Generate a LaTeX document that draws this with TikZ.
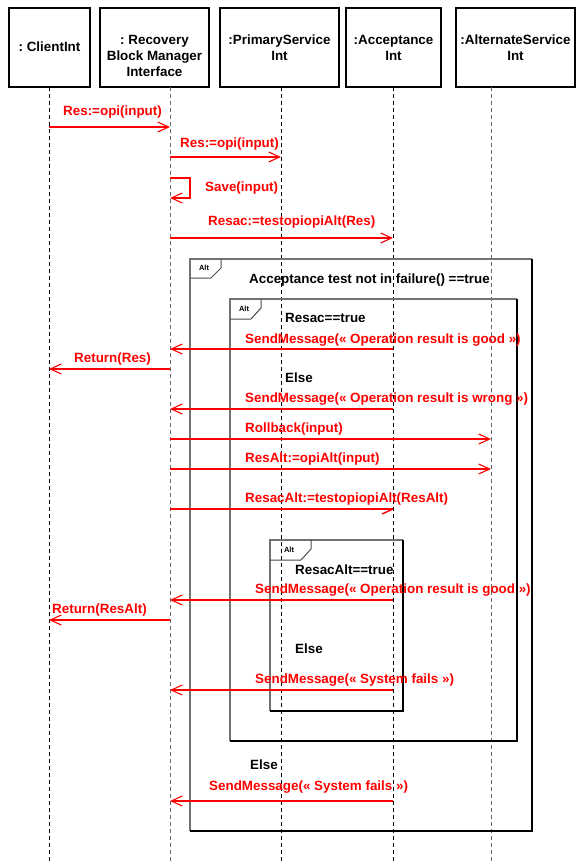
\documentclass[tikz,border=0pt]{standalone}
\usepackage{fontspec}
\setmainfont{Liberation Sans}
\usetikzlibrary{arrows.meta}
\newcommand{\lbfont}{\fontsize{13.4}{16}\selectfont\bfseries}
\newcommand{\tagfont}{\fontsize{7.5}{8}\selectfont\bfseries}
\frenchspacing
\begin{document}
\begin{tikzpicture}[x=1pt,y=-1pt,
  headbox/.style={draw,line width=1.2pt,inner sep=0},
  headtxt/.style={font=\lbfont,align=center,inner sep=0},
  lifeline/.style={dash pattern=on 4pt off 3pt,line width=0.8pt},
  msg/.style={red,line width=1.2pt,-{Straight Barb[length=11pt,width=10pt,line width=1.1pt]}},
  halfmsg/.style={draw=red,line width=1.4pt},
  lbl/.style={text=red,font=\lbfont,inner sep=0,anchor=base west},
  guard/.style={text=black,font=\lbfont,inner sep=0,anchor=base west},
  frameTL/.style={draw=black!55,line width=1.1pt},
  frameBR/.style={draw=black,line width=1.1pt},
  frameBot/.style={draw=black,line width=1.8pt},
  tagline/.style={draw=black!70,line width=1pt},
  tagtxt/.style={font=\tagfont,inner sep=0}]
\useasboundingbox (0,0) rectangle (576,861);
\fill[white] (0,0) rectangle (576,861);

% heads
\node[headbox,minimum width=81pt,minimum height=79pt] (b1) at (49.5,47.5) {};
\node[headbox,minimum width=109pt,minimum height=79pt] (b2) at (154.5,47.5) {};
\node[headbox,minimum width=119pt,minimum height=79pt] (b3) at (279.5,47.5) {};
\node[headbox,minimum width=95pt,minimum height=79pt] (b4) at (393.5,47.5) {};
\node[headbox,minimum width=119pt,minimum height=79pt] (b5) at (515.5,47.5) {};
\node[headtxt] (t1) at (49.5,47) {: ClientInt};
\node[headtxt] (t2) at (154.5,56) {: Recovery\\Block Manager\\Interface};
\node[headtxt] (t3) at (279.5,48) {:PrimaryService\\Int};
\node[headtxt] (t4) at (393.5,48) {:Acceptance\\Int};
\node[headtxt] (t5) at (515.5,48) {:AlternateService\\Int};

% lifelines
\coordinate (l1) at (49,87);
\coordinate (l2) at (170,87);
\coordinate (l3) at (281,87);
\coordinate (l4) at (393,87);
\coordinate (l5) at (491,87);
\draw[lifeline] (l1) -- (l1 |- 0,861);
\draw[lifeline,black!60] (l2) -- (l2 |- 0,861);
\draw[lifeline] (l3) -- (l3 |- 0,861);
\draw[lifeline] (l4) -- (l4 |- 0,861);
\draw[lifeline,black!60] (l5) -- (l5 |- 0,861);

% outer alt frame
\draw[frameTL] (190,831) -- (190,259) -- (532,259);
\draw[frameBR] (532,259) -- (532,831);
\draw[frameBot] (189.5,831) -- (532.5,831);
\draw[tagline] (190,278) -- (211,278) -- (221,268) -- (221,259);
\node[tagtxt] (tag1) at (204,268) {Alt};
% inner alt frame
\draw[frameTL] (230,741) -- (230,299) -- (517,299);
\draw[frameBR] (517,299) -- (517,741);
\draw[frameBot] (229.5,741) -- (517.5,741);
\draw[tagline] (230,319) -- (251,319) -- (261,308) -- (261,299);
\node[tagtxt] (tag2) at (244,309) {Alt};
% inner-inner alt frame
\draw[frameTL] (270,711) -- (270,540) -- (403,540);
\draw[frameBR] (403,540) -- (403,711);
\draw[frameBot] (269.5,711) -- (403.5,711);
\draw[tagline] (270,560) -- (301,560) -- (311,549) -- (311,540);
\node[tagtxt] (tag3) at (289,550) {Alt};

% guards
\node[guard] (g1) at (249,283.5) {Acceptance test not in failure() ==true};
\node[guard] (g2) at (285,322.5) {Resac==true};
\node[guard] (g3) at (285,382.5) {Else};
\node[guard] (g4) at (295,574.5) {ResacAlt==true};
\node[guard] (g5) at (295,653.5) {Else};
\node[guard] (g6) at (250,769.5) {Else};

% messages
\node[lbl] (m1) at (63,115.5) {Res:=opi(input)};
\draw[msg] (l1 |- 0,127) -- (l2 |- 0,127);
\node[lbl] (m2) at (180,147.5) {Res:=opi(input)};
\draw[msg] (l2 |- 0,157) -- (l3 |- 0,157);
\node[lbl] (m3) at (205,191.5) {Save(input)};
\draw[msg] (l2 |- 0,178) -- ++(20,0) |- (l2 |- 0,198);
\node[lbl] (m4) at (208,225.5) {Resac:=testopiopiAlt(Res)};
\draw[msg] (l2 |- 0,238) -- (l4 |- 0,238);
\node[lbl] (m5) at (245,343.5) {SendMessage(« Operation result is good »)};
\draw[msg] (l4 |- 0,349) -- (l2 |- 0,349);
\node[lbl] (m6) at (74,362.5) {Return(Res)};
\draw[msg] (l2 |- 0,369) -- (l1 |- 0,369);
\node[lbl] (m7) at (245,402.5) {SendMessage(« Operation result is wrong »)};
\draw[msg] (l4 |- 0,409) -- (l2 |- 0,409);
\node[lbl] (m8) at (245,432.5) {Rollback(input)};
\draw[msg] (l2 |- 0,439) -- (l5 |- 0,439);
\node[lbl] (m9) at (245,462.5) {ResAlt:=opiAlt(input)};
\draw[msg] (l2 |- 0,469) -- (l5 |- 0,469);
\node[lbl] (m10) at (245,502.5) {ResacAlt:=testopiopiAlt(ResAlt)};
\draw[halfmsg] (l2 |- 0,509) -- (l4 |- 0,509);
\draw[halfmsg] (l4 |- 0,509) -- ++(-11,5);
\node[lbl] (m11) at (255,593.5) {SendMessage(« Operation result is good »)};
\draw[msg] (l4 |- 0,600) -- (l2 |- 0,600);
\node[lbl] (m12) at (52,613.5) {Return(ResAlt)};
\draw[msg] (l2 |- 0,620) -- (l1 |- 0,620);
\node[lbl] (m13) at (255,683.5) {SendMessage(« System fails »)};
\draw[msg] (l4 |- 0,690) -- (l2 |- 0,690);
\node[lbl] (m14) at (209,790.5) {SendMessage(« System fails »)};
\draw[msg] (l4 |- 0,801) -- (l2 |- 0,801);
\end{tikzpicture}
\end{document}
